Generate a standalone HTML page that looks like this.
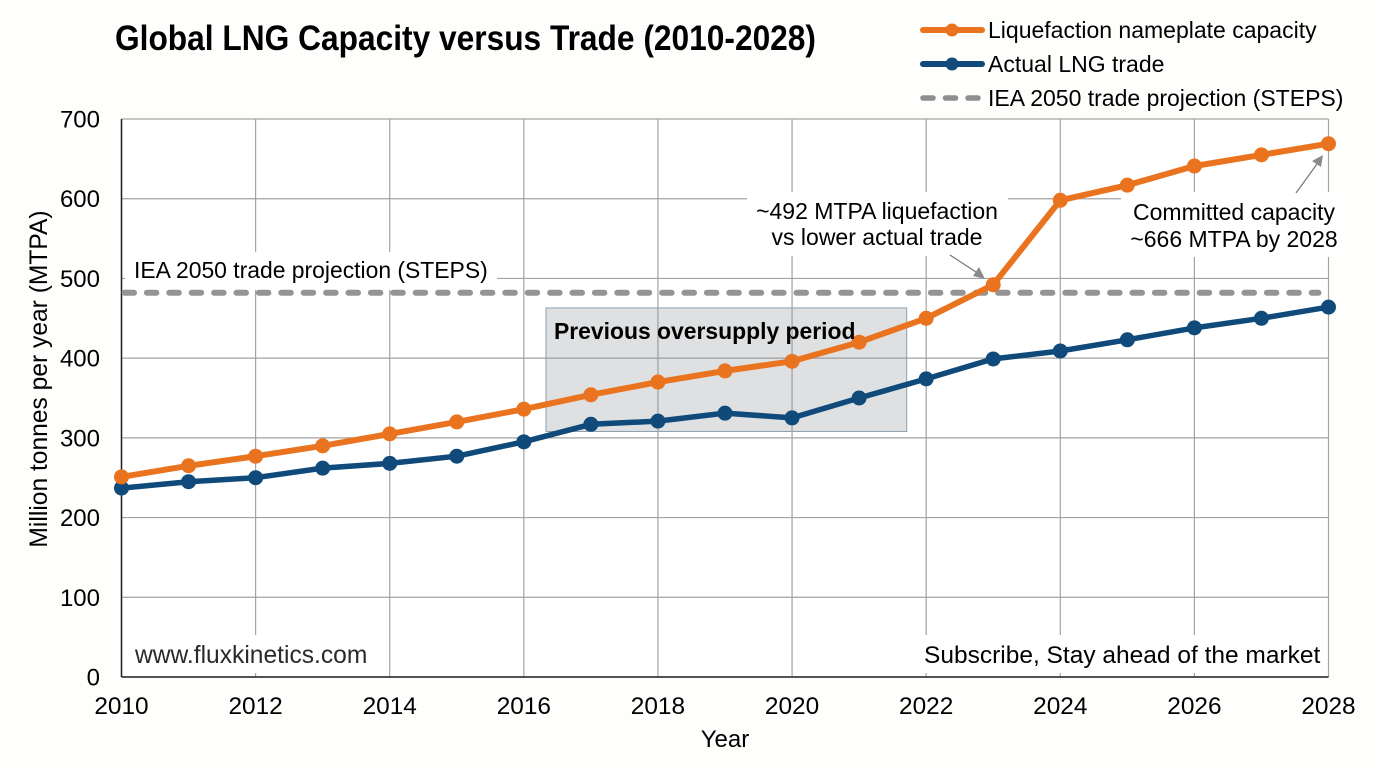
<!DOCTYPE html>
<html>
<head>
<meta charset="utf-8">
<title>Global LNG Capacity versus Trade (2010-2028)</title>
<style>
html,body{margin:0;padding:0;background:#fefefc;}
svg{display:block;font-family:"Liberation Sans",sans-serif;}
</style>
</head>
<body>
<svg id="chart" width="1376" height="768" viewBox="0 0 1376 768" xmlns="http://www.w3.org/2000/svg">
<rect x="0" y="0" width="1376" height="768" fill="#fefefc"/>
<rect x="121" y="119" width="1207" height="558" fill="#ffffff"/>
<g id="grid"></g>
<g id="masks"></g>
<rect id="band" fill="#8f9496" fill-opacity="0.29" stroke="#8ea0ae" stroke-width="1"/>
<g id="axes"></g>
<g id="marks"></g>
<g id="labels"></g>
<text x="115" y="50" font-size="35" font-weight="700" fill="#000" textLength="701" lengthAdjust="spacingAndGlyphs">Global LNG Capacity versus Trade (2010-2028)</text>
<text transform="translate(47,379) rotate(-90)" text-anchor="middle" font-size="24.6" fill="#000">Million tonnes per year (MTPA)</text>
<text x="725" y="747" text-anchor="middle" font-size="24" fill="#000">Year</text>
<g>
<line x1="923" y1="30" x2="982" y2="30" stroke="#ea7320" stroke-width="6" stroke-linecap="round"/>
<circle cx="952" cy="30" r="6.5" fill="#ea7320"/>
<text x="988" y="38" font-size="23" fill="#000">Liquefaction nameplate capacity</text>
<line x1="923" y1="64" x2="982" y2="64" stroke="#0f4a7a" stroke-width="6" stroke-linecap="round"/>
<circle cx="952" cy="64" r="6.5" fill="#0f4a7a"/>
<text x="988" y="72" font-size="23" fill="#000">Actual LNG trade</text>
<line x1="923" y1="98" x2="981" y2="98" stroke="#8e8e8e" stroke-width="5.5" stroke-dasharray="10 12.5" stroke-linecap="round"/>
<text x="988" y="106" font-size="23" fill="#000">IEA 2050 trade projection (STEPS)</text>
</g>
<text x="134" y="278" font-size="22.9" fill="#000">IEA 2050 trade projection (STEPS)</text>
<text x="554" y="339" font-size="22.9" font-weight="700" fill="#000">Previous oversupply period</text>
<text x="877" y="219" text-anchor="middle" font-size="23" fill="#000">~492 MTPA liquefaction</text>
<text x="877" y="245" text-anchor="middle" font-size="23" fill="#000">vs lower actual trade</text>
<text x="1234" y="220" text-anchor="middle" font-size="23" fill="#000">Committed capacity</text>
<text x="1234" y="247" text-anchor="middle" font-size="23" fill="#000">~666 MTPA by 2028</text>
<g>
<line x1="950" y1="255" x2="979" y2="274" stroke="#777" stroke-width="1.2"/>
<polygon points="985,279 973,276 979,267" fill="#8a8a8a"/>
</g>
<g>
<line x1="1296" y1="193" x2="1317" y2="164" stroke="#777" stroke-width="1.2"/>
<polygon points="1323,155 1321,167 1312,161" fill="#8a8a8a"/>
</g>
<text x="135" y="663" font-size="24.6" fill="#2a2a2a">www.fluxkinetics.com</text>
<text x="924" y="663" font-size="24.5" fill="#000">Subscribe, Stay ahead of the market</text>
</svg>
<script>
const years = [2010,2011,2012,2013,2014,2015,2016,2017,2018,2019,2020,2021,2022,2023,2024,2025,2026,2027,2028];
const capacityValues = [251,265,277,290,305,320,336,354,370,384,396,420,450,492,598,617,641,655,669];
const tradeValues = [237,245,250,262,268,277,295,317,321,331,325,350,374,399,409,423,438,450,464];
const projectionValue = [482];
const yTicks = [0,100,200,300,400,500,600,700];
const xTicks = [2010,2012,2014,2016,2018,2020,2022,2024,2026,2028];
const oversupplyYears = [2016.33,2021.71];
const oversupplyRange = [308,463];

const NS = 'http://www.w3.org/2000/svg';
function sx(v){ return 121.5 + (v - 2010) * (1328.5 - 121.5) / 18; }
function sy(v){ return 677 - v * 558 / 700; }
function mk(tag, attrs, parent){
  const el = document.createElementNS(NS, tag);
  for (const k in attrs) el.setAttribute(k, attrs[k]);
  parent.appendChild(el);
  return el;
}
const grid = document.getElementById('grid');
const masks = document.getElementById('masks');
const axes = document.getElementById('axes');
const marks = document.getElementById('marks');
const labels = document.getElementById('labels');

yTicks.forEach(function(t){
  const l = mk('line', {x1:sx(2010), x2:sx(2028), y1:sy(t), y2:sy(t), stroke:'#a3a3a3', 'stroke-width':1.2}, grid);
  
  
  const txt = mk('text', {x:100, y:sy(t) + 8.5, 'text-anchor':'end', 'font-size':24, fill:'#000'}, labels);
  txt.textContent = t;
  
  
});
xTicks.forEach(function(t){
  const l = mk('line', {x1:sx(t), x2:sx(t), y1:sy(700), y2:sy(0), stroke:'#a3a3a3', 'stroke-width':1.2}, grid);
  
  
  const txt = mk('text', {x:sx(t), y:714, 'text-anchor':'middle', 'font-size':24.4, fill:'#000'}, labels);
  txt.textContent = t;
  
  
});

[[125,252,372,38],[747,192,261,64],[1121,192,214,65],[125,635,255,38],[918,635,408,38]].forEach(function(b, i){
  const r = mk('rect', {x:b[0], y:b[1], width:b[2], height:b[3], fill:'#ffffff'}, masks);
  
  
});

const band = document.getElementById('band');
band.setAttribute('x', sx(oversupplyYears[0]));
band.setAttribute('width', sx(oversupplyYears[1]) - sx(oversupplyYears[0]));
band.setAttribute('y', sy(oversupplyRange[1]));
band.setAttribute('height', sy(oversupplyRange[0]) - sy(oversupplyRange[1]));

const yAxis = mk('line', {x1:sx(2010), x2:sx(2010), y1:sy(700), y2:sy(0), stroke:'#222', 'stroke-width':1.5}, axes);


const xAxis = mk('line', {x1:sx(2010), x2:sx(2028), y1:sy(0), y2:sy(0), stroke:'#222', 'stroke-width':1.5}, axes);



const proj = mk('line', {x1:sx(2010) + 3, x2:sx(2028) - 10, y1:sy(projectionValue[0]), y2:sy(projectionValue[0]), stroke:'#8e8e8e', 'stroke-opacity':0.95, 'stroke-width':6, 'stroke-dasharray':'9.5 12.9', 'stroke-linecap':'round'}, marks);



function path(vals){
  return vals.map(function(v, i){ return (i ? 'L' : 'M') + sx(years[i]).toFixed(1) + ' ' + sy(v).toFixed(1); }).join(' ');
}
const tradeLine = mk('path', {d:path(tradeValues), fill:'none', stroke:'#0f4a7a', 'stroke-width':5.5, 'stroke-linejoin':'round'}, marks);


tradeValues.forEach(function(v, i){
  const c = mk('circle', {cx:sx(years[i]), cy:sy(v), r:7.5, fill:'#0f4a7a'}, marks);
  
  
});
const capLine = mk('path', {d:path(capacityValues), fill:'none', stroke:'#ea7320', 'stroke-width':6, 'stroke-linejoin':'round'}, marks);


capacityValues.forEach(function(v, i){
  const c = mk('circle', {cx:sx(years[i]), cy:sy(v), r:7.5, fill:'#ea7320'}, marks);
  
  
});
</script>
</body>
</html>
